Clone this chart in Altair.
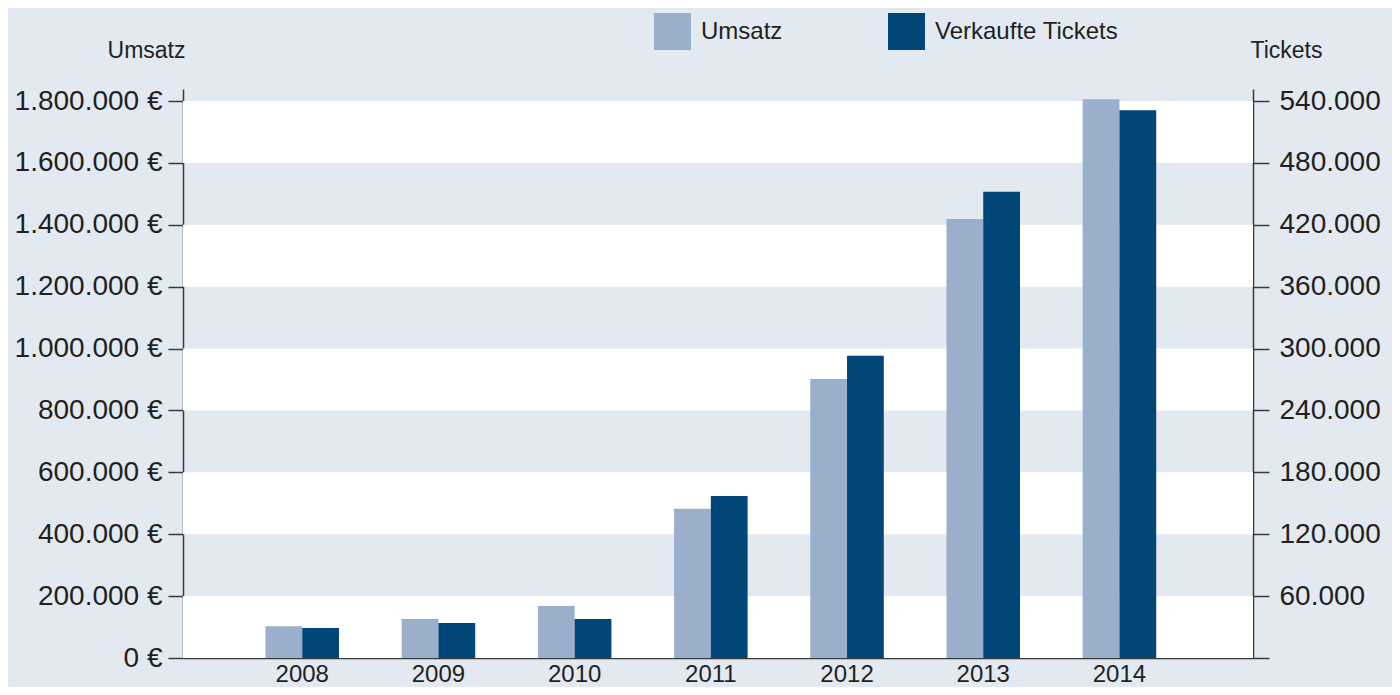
import altair as alt
import pandas as pd

# ---- data ----
jahre = ["2008", "2009", "2010", "2011", "2012", "2013", "2014"]
umsatz = [103000, 126000, 168000, 482000, 902000, 1419000, 1806000]
tickets = [29100, 33900, 37800, 157000, 293000, 452000, 531000]
serien = ["Umsatz", "Verkaufte Tickets"]
left_ticks = [0, 200000, 400000, 600000, 800000, 1000000, 1200000, 1400000, 1600000, 1800000]
right_ticks = [0, 60000, 120000, 180000, 240000, 300000, 360000, 420000, 480000, 540000]
band_lo = [0, 400000, 800000, 1200000, 1600000]
band_hi = [200000, 600000, 1000000, 1400000, 1800000]

# ---- styling ----
FONT = "Liberation Sans"
BG = "#e2e9f0"
TEXT = "#231f20"
AXIS = "#3a3a3a"
farben = ["#9aafcc", "#004677"]
W, H = 1070, 569
ymax_left = 1800000 * 569 / 557
ymax_right = 540000 * 569 / 557

df = pd.DataFrame({
    "Jahr": jahre * 2,
    "Serie": [serien[0]] * len(jahre) + [serien[1]] * len(jahre),
    "Wert": umsatz + tickets,
})
bands = pd.DataFrame({"lo": band_lo, "hi": band_hi})

x_enc = alt.X(
    "Jahr:N",
    sort=jahre,
    scale=alt.Scale(paddingInner=0.46, paddingOuter=0.658, align=0.46),
    axis=alt.Axis(title=None, labelAngle=0, ticks=False, labelPadding=4,
                  labelFontSize=24, labelFont=FONT, labelColor=TEXT,
                  domainColor=AXIS, domainWidth=1.5),
)
xoff = alt.XOffset("Serie:N", scale=alt.Scale(domain=serien, paddingInner=0, paddingOuter=0))
color_enc = alt.Color(
    "Serie:N",
    scale=alt.Scale(domain=serien, range=farben),
    legend=alt.Legend(orient="none", legendX=471, legendY=-76, direction="horizontal",
                      title=None, symbolType="square", symbolSize=1369,
                      symbolStrokeWidth=0, symbolOpacity=1, labelFontSize=24,
                      labelFont=FONT, labelColor=TEXT, labelOffset=10, labelLimit=0,
                      columnPadding=105, padding=0),
)

left_scale = alt.Scale(domain=[0, ymax_left], nice=False, zero=True)


def left_axis():
    return alt.Axis(
        values=left_ticks,
        labelExpr="replace(format(datum.value, ',d'), regexp(',', 'g'), '.') + ' €'",
        title="Umsatz", titleAngle=0, titleAlign="right", titleX=2, titleY=-32,
        titleBaseline="alphabetic", titleFont=FONT, titleFontSize=23,
        titleFontWeight="normal", titleColor=TEXT,
        grid=False, tickSize=15, tickColor=AXIS, tickWidth=1.5, labelPadding=6,
        labelFont=FONT, labelFontSize=28, labelColor=TEXT,
        domainColor=AXIS, domainWidth=1.5,
    )


right_axis = alt.Axis(
    orient="right",
    values=right_ticks,
    labelExpr="datum.value == 0 ? '' : replace(format(datum.value, ',d'), regexp(',', 'g'), '.')",
    title="Tickets", titleAngle=0, titleAlign="left", titleX=-3, titleY=-32,
    titleBaseline="alphabetic", titleFont=FONT, titleFontSize=23,
    titleFontWeight="normal", titleColor=TEXT,
    grid=False, tickSize=16, tickColor=AXIS, tickWidth=1.5, labelPadding=10,
    labelFont=FONT, labelFontSize=28, labelColor=TEXT,
    domainColor=AXIS, domainWidth=1.5,
)

band_layer = alt.Chart(bands).mark_rect(color="white").encode(
    x=alt.value(0),
    x2=alt.value("width"),
    y=alt.Y("lo:Q", scale=left_scale, axis=left_axis()),
    y2="hi:Q",
)

umsatz_layer = alt.Chart(df).transform_filter(
    alt.datum.Serie == serien[0]
).mark_bar().encode(
    x=x_enc,
    xOffset=xoff,
    y=alt.Y("Wert:Q", scale=left_scale, axis=left_axis()),
    color=color_enc,
)

tickets_layer = alt.Chart(df).transform_filter(
    alt.datum.Serie == serien[1]
).mark_bar().encode(
    x=x_enc,
    xOffset=xoff,
    y=alt.Y("Wert:Q", scale=alt.Scale(domain=[0, ymax_right], nice=False, zero=True),
            axis=right_axis),
    color=color_enc,
)

left = alt.layer(band_layer, umsatz_layer)

chart = alt.layer(left, tickets_layer).resolve_scale(y="independent").properties(
    width=W,
    height=H,
    padding={"left": 175, "top": 81, "right": 139, "bottom": 29},
    autosize=alt.AutoSizeParams(type="none"),
    background=BG,
).configure_view(stroke=None, fill=None)

chart.save("out.html", embed_options={"renderer": "svg", "actions": False})
